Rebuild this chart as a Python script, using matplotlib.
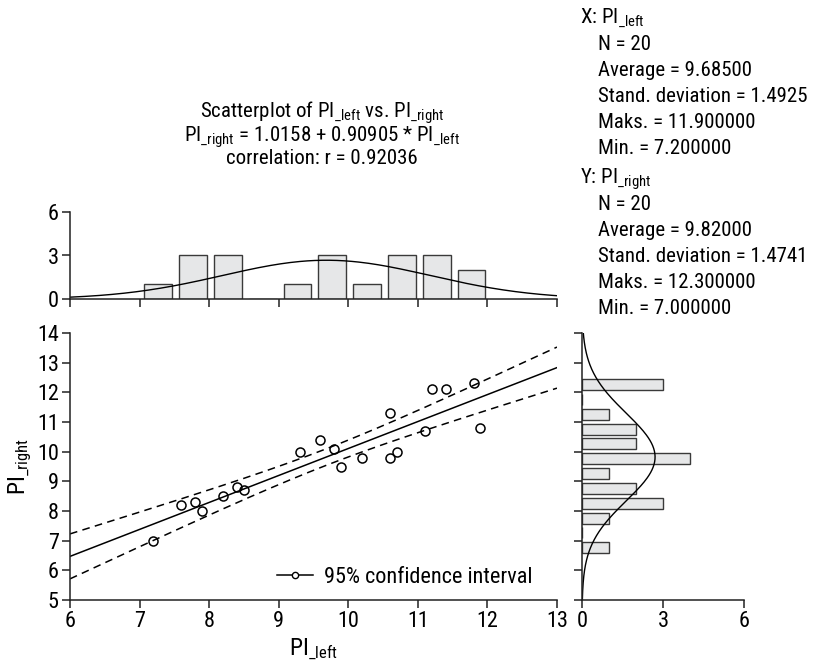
#!/usr/bin/env python
# -*- encoding: utf-8 -*-

'''scatterplot of PI left vs PI right with marginal histograms
'''

import numpy as np
import matplotlib
matplotlib.use('Agg')
import matplotlib.pyplot as plt

plt.rcParams['font.family'] = ['Roboto Condensed', 'Liberation Sans Narrow', 'DejaVu Sans']
plt.rcParams['font.stretch'] = 'condensed'
plt.rcParams['mathtext.default'] = 'regular'

pi_left = [7.2, 7.6, 7.8, 7.9, 8.2, 8.4, 8.5, 9.3, 9.6, 9.8,
           9.9, 10.2, 10.6, 10.6, 10.7, 11.1, 11.2, 11.4, 11.8, 11.9]
pi_right = [7.0, 8.2, 8.3, 8.0, 8.5, 8.8, 8.7, 10.0, 10.4, 10.1,
            9.5, 9.8, 11.3, 9.8, 10.0, 10.7, 12.1, 12.1, 12.3, 10.8]

x_bin_centers = [7.27, 7.77, 8.27, 8.77, 9.27, 9.77, 10.27, 10.77, 11.27, 11.77]
x_counts = [1, 3, 3, 0, 1, 3, 1, 3, 3, 2]
y_bin_centers = [6.76, 7.26, 7.76, 8.26, 8.76, 9.26, 9.76, 10.26, 10.76, 11.26, 11.76, 12.26]
y_counts = [1, 0, 1, 3, 2, 1, 4, 2, 2, 1, 0, 3]
bin_width = 0.5

intercept, slope = 1.0158, 0.90905
r_value = 0.92036
t_crit = 2.101  # t(0.975, 18)

stats_x = {'N': 20, 'mean': 9.68500, 'sd': 1.4925, 'max': 11.9, 'min': 7.2}
stats_y = {'N': 20, 'mean': 9.82000, 'sd': 1.4741, 'max': 12.3, 'min': 7.0}

LEFT = r'PI$_{\_left}$'
RIGHT = r'PI$_{\_right}$'
FS = 15
BAR_FACE = '#e6e7e8'
BAR_EDGE = '#3a3a3a'


def style_axes(ax):
    for side in ('top', 'right'):
        ax.spines[side].set_visible(False)
    for side in ('left', 'bottom'):
        ax.spines[side].set_linewidth(1.1)
        ax.spines[side].set_color('#222222')
    ax.tick_params(direction='out', length=6, width=1.1, labelsize=FS + 1,
                   color='#222222', pad=2)


def normal_curve(t, mean, sd, n):
    return n * bin_width / (sd * np.sqrt(2 * np.pi)) * np.exp(-0.5 * ((t - mean) / sd) ** 2)


def plot(pic_name):
    fig = plt.figure(figsize=(8.15, 6.63), dpi=100)
    ax = fig.add_axes([70 / 815, 1 - 600 / 663, 487 / 815, 267 / 663])
    ax_top = fig.add_axes([70 / 815, 1 - 299 / 663, 487 / 815, 87 / 663])
    ax_right = fig.add_axes([582 / 815, 1 - 600 / 663, 162 / 815, 267 / 663])

    x = np.array(pi_left)
    y = np.array(pi_right)

    # main scatter
    style_axes(ax)
    xs = np.linspace(6, 13, 200)
    fit = intercept + slope * xs
    n = len(x)
    resid = y - (intercept + slope * x)
    s = np.sqrt(np.sum(resid ** 2) / (n - 2))
    sxx = np.sum((x - x.mean()) ** 2)
    half = t_crit * s * np.sqrt(1.0 / n + (xs - x.mean()) ** 2 / sxx)
    ax.plot(xs, fit, color='black', lw=1.1)
    ax.plot(xs, fit + half, color='black', lw=1.1, ls=(0, (5, 3.5)))
    ax.plot(xs, fit - half, color='black', lw=1.1, ls=(0, (5, 3.5)))
    ax.plot(x, y, 'o', mfc='none', mec='black', ms=6.5, mew=1.1, ls='none')
    ax.plot([], [], color='black', lw=1.1, marker='o', ms=4.5, mfc='white',
            mec='black', label='95% confidence interval')
    ax.legend(loc='center right', bbox_to_anchor=(0.99, 0.086), frameon=False,
              fontsize=FS + 1, handlelength=1.6, handletextpad=0.5)
    ax.set_xlim(6, 13)
    ax.set_ylim(5, 14)
    ax.set_xticks(range(6, 14))
    ax.set_yticks(range(5, 15))
    ax.set_xlabel(LEFT, fontsize=FS + 2, labelpad=3)
    ax.set_ylabel(RIGHT, fontsize=FS + 2, labelpad=2)

    # top histogram
    style_axes(ax_top)
    ax_top.bar(x_bin_centers, x_counts, width=0.4, color=BAR_FACE,
               edgecolor=BAR_EDGE, lw=1.0)
    ax_top.plot(xs, normal_curve(xs, stats_x['mean'], stats_x['sd'], stats_x['N']),
                color='black', lw=1.0)
    ax_top.set_xlim(6, 13)
    ax_top.set_ylim(0, 6)
    ax_top.set_xticks(range(6, 14))
    ax_top.set_xticklabels([])
    ax_top.set_yticks([0, 3, 6])

    # right histogram
    style_axes(ax_right)
    ys = np.linspace(5, 14, 200)
    ax_right.barh(y_bin_centers, y_counts, height=0.37, color=BAR_FACE,
                  edgecolor=BAR_EDGE, lw=1.0)
    ax_right.plot(normal_curve(ys, stats_y['mean'], stats_y['sd'], stats_y['N']), ys,
                  color='black', lw=1.0)
    ax_right.set_xlim(0, 6)
    ax_right.set_ylim(5, 14)
    ax_right.set_xticks([0, 3, 6])
    ax_right.set_yticks(range(5, 15))
    ax_right.set_yticklabels([])

    # title lines
    cx = 322 / 815
    fig.text(cx, 1 - 113 / 663, 'Scatterplot of ' + LEFT + ' vs. ' + RIGHT,
             ha='center', va='center', fontsize=FS)
    fig.text(cx, 1 - 137 / 663, RIGHT + ' = %.4f + %.5f * ' % (intercept, slope) + LEFT,
             ha='center', va='center', fontsize=FS)
    fig.text(cx, 1 - 159 / 663, 'correlation: r = %.5f' % r_value,
             ha='center', va='center', fontsize=FS)

    # stats block
    lines = [
        ('X: ' + LEFT, 580),
        ('N = %d' % stats_x['N'], 598),
        ('Average = %.5f' % stats_x['mean'], 598),
        ('Stand. deviation = %.4f' % stats_x['sd'], 598),
        ('Maks. = %.6f' % stats_x['max'], 598),
        ('Min. = %.6f' % stats_x['min'], 598),
        ('Y: ' + RIGHT, 580),
        ('N = %d' % stats_y['N'], 598),
        ('Average = %.5f' % stats_y['mean'], 598),
        ('Stand. deviation = %.4f' % stats_y['sd'], 598),
        ('Maks. = %.6f' % stats_y['max'], 598),
        ('Min. = %.6f' % stats_y['min'], 598),
    ]
    ypos = [18, 44, 70, 96, 122, 148, 179, 205, 231, 257, 283, 309]
    for (txt, xpx), ypx in zip(lines, ypos):
        fig.text(xpx / 815, 1 - ypx / 663, txt, ha='left', va='center', fontsize=FS)

    fig.savefig(pic_name, dpi=100)


def main():
    plot("out.png")


if __name__ == "__main__":
    main()
